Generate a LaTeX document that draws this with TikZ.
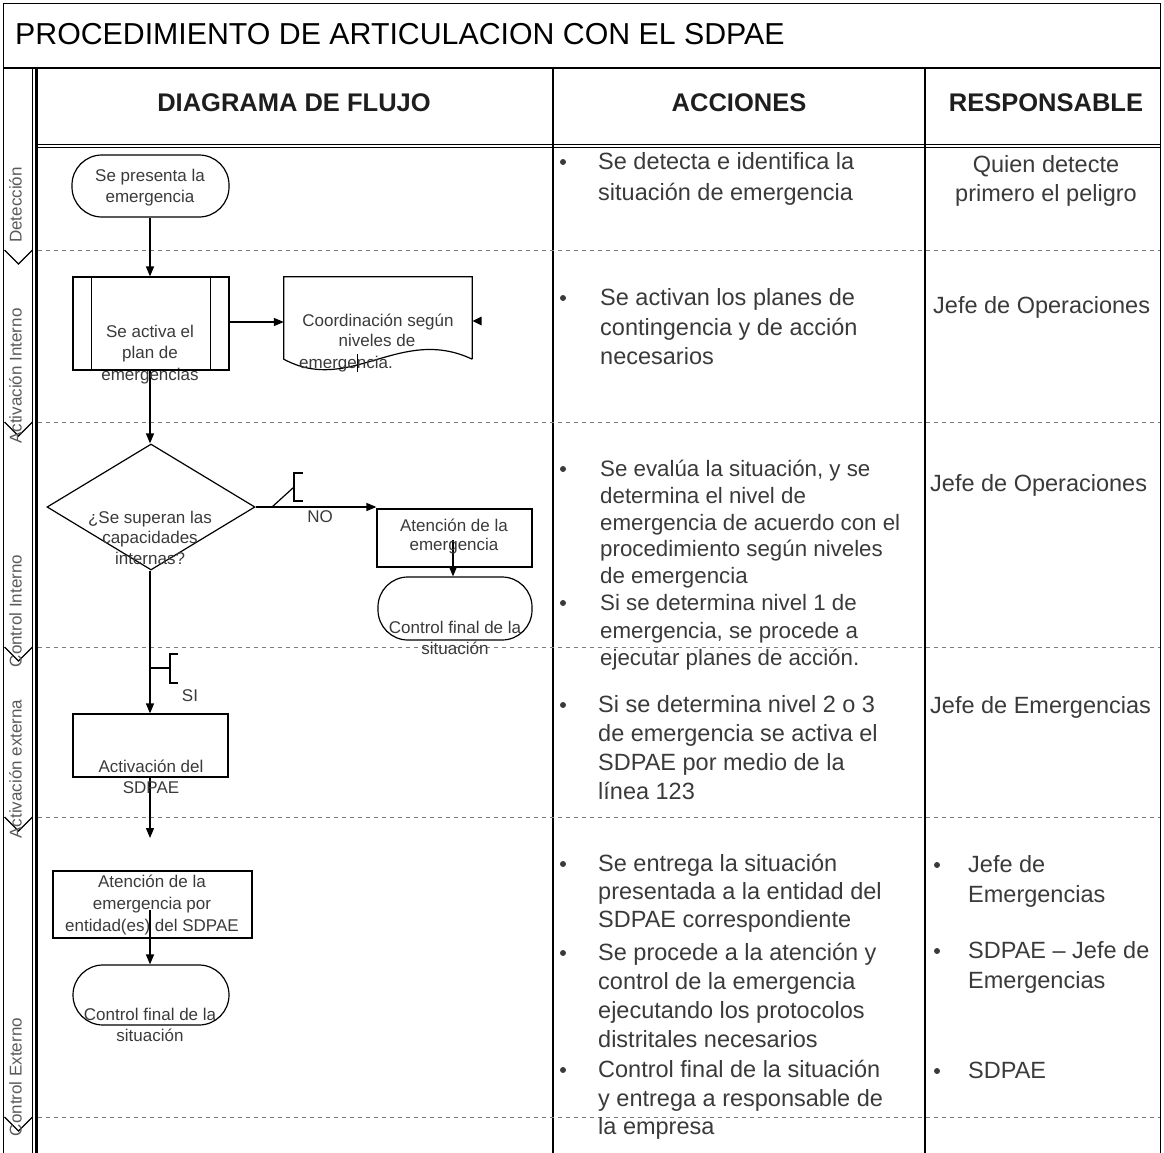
\documentclass[tikz,border=0pt]{standalone}
\usepackage{fontspec}
\setmainfont{Liberation Sans}
\usetikzlibrary{arrows.meta,shapes.geometric}
\definecolor{txt}{HTML}{3A3A3A}
\definecolor{hdr}{HTML}{1E1E1E}
\definecolor{dashc}{HTML}{7A7A7A}
\definecolor{lanec}{HTML}{5A5A5A}
\newcommand\TxtLines[6]{%
  \foreach \t [count=\i] in {#6} {
    \node[#2] (#1\i) at ({#3},{#4+#5*(\i-1)}) {\t};
  }}
\begin{document}
\begin{tikzpicture}[x=1pt,y=-1pt,
  fl/.style={draw, line width=1.2pt, inner sep=0pt},
  term/.style={fl, rectangle, rounded corners=30pt},
  conn/.style={line width=1.3pt, -{Triangle[length=10pt,width=8pt]}},
  annot/.style={line width=1.2pt},
  ftxt/.style={font=\fontsize{17}{20}\selectfont, text=txt, inner sep=0pt, anchor=mid, yshift=-3.5pt},
  atxt/.style={font=\fontsize{23.5}{27}\selectfont, text=txt, inner sep=0pt, anchor=mid west, yshift=-5pt},
  atxs/.style={atxt, font=\fontsize{22.3}{26}\selectfont},
  ctxt/.style={font=\fontsize{23.5}{27}\selectfont, text=txt, inner sep=0pt, anchor=mid, yshift=-5pt},
  hdrtxt/.style={font=\fontsize{25.5}{30}\bfseries, text=hdr, inner sep=0pt, anchor=base},
  lane/.style={font=\fontsize{17}{20}\selectfont, text=lanec, inner sep=0pt, rotate=90, anchor=mid},
  dsh/.style={draw=dashc, line width=1pt, dash pattern=on 4pt off 4pt},
  bul/.style={fill=txt, draw=none}
]
\useasboundingbox (0,0) rectangle (1164,1153);
% ---------- table frame ----------
\draw[line width=1.4pt] (3.5,1153) -- (3.5,3.5) -- (1160.5,3.5) -- (1160.5,1153);
\draw[line width=2.4pt] (3,68) -- (1161,68);
\draw[line width=1.1pt] (36,144.5) -- (1161,144.5);
\draw[line width=1.1pt] (36,147.5) -- (1161,147.5);
\draw[line width=3pt] (36,68) -- (36,1153);
\draw[line width=0.8pt] (32.5,68) -- (32.5,1153);
\draw[line width=1.3pt] (553,68) -- (553,1153);
\draw[line width=1.3pt] (925,68) -- (925,1153);
\foreach \yy in {250,422,647,817,1117} {
  \draw[dsh] (38,\yy) -- (1160,\yy);
  \draw[line width=1.3pt] (4.5,\yy) -- (18.5,{\yy+14}) -- (32.5,\yy);
}
% ---------- title and headers ----------
\node[anchor=base west, font=\fontsize{30.3}{34}\selectfont, text=black, inner sep=0pt] (title) at (15,45) {PROCEDIMIENTO DE ARTICULACION CON EL SDPAE};
\node[hdrtxt] (h1) at (294,112) {DIAGRAMA DE FLUJO};
\node[hdrtxt] (h2) at (739,112) {ACCIONES};
\node[hdrtxt] (h3) at (1046,112) {RESPONSABLE};
% ---------- lane labels ----------
\node[lane] (lane1) at (19,205) {Detección};
\node[lane] (lane2) at (19,376) {Activación Interno};
\node[lane] (lane3) at (19,611) {Control Interno};
\node[lane] (lane4) at (19,769) {Activación externa};
\node[lane] (lane5) at (19,1077) {Control Externo};
% ---------- flowchart shapes ----------
\node[term, minimum width=157pt, minimum height=62pt] (start) at (150.5,186) {};
\node[fl, rectangle, minimum width=156pt, minimum height=93pt] (plan) at (151,323.5) {};
\draw[line width=1.2pt] ([xshift=19pt]plan.north west) -- ([xshift=19pt]plan.south west);
\draw[line width=1.2pt] ([xshift=-19pt]plan.north east) -- ([xshift=-19pt]plan.south east);
\node[inner sep=0pt, minimum width=188pt, minimum height=82pt] (doc) at (378,318) {};
\draw[line width=1.2pt] (doc.south east) -- (doc.north east) -- (doc.north west) -- (doc.south west)
  .. controls (350,395) and (400,325) .. (doc.south east);
\fill (472.5,321) -- (481.5,316.5) -- (481.5,325.5) -- cycle;
\draw[line width=1pt] (357,354) -- (357,372);
\node[fl, diamond, minimum width=208pt, minimum height=126pt, aspect=1.65] (dia) at (151,507) {};
\node[fl, rectangle, minimum width=155pt, minimum height=58pt] (aten1) at (454.5,538) {};
\node[term, minimum width=154pt, minimum height=63pt] (ctrl1) at (455,608.5) {};
\node[fl, rectangle, minimum width=155pt, minimum height=63pt] (act) at (150.5,745.5) {};
\coordinate (actend) at (150,838);
\node[fl, rectangle, minimum width=199pt, minimum height=67pt] (aten2) at (152.5,904.5) {};
\node[term, minimum width=156pt, minimum height=60pt] (ctrl2) at (151,995) {};
% ---------- connectors ----------
\draw[conn] (start.south -| 150,0) -- (plan.north -| 150,0);
\draw[conn] (plan.east |- 0,322) -- (doc.west |- 0,322);
\draw[conn] (plan.south -| 150,0) -- (dia.north -| 150,0);
\draw[conn] (dia.east) -- (aten1.west |- dia.east);
\draw[conn] (453,540) -- (ctrl1.north -| 453,0);
\draw[conn] (dia.south -| 150,0) -- (act.north -| 150,0);
\draw[conn] (act.south -| 150,0) -- (actend);
\draw[conn] (150,910) -- (ctrl2.north -| 150,0);
% ---------- annotations ----------
\draw[annot] (272,507) -- (294,487);
\draw[annot] (303,473) -- (294,473) -- (294,501) -- (303,501);
\node[ftxt] (nolab) at (320,516) {NO};
\draw[annot] (151,668) -- (170,668);
\draw[annot] (178,654) -- (170,654) -- (170,683) -- (178,683);
\node[ftxt] (silab) at (190,695) {SI};
% ---------- flowchart texts ----------
\TxtLines{ts}{ftxt}{150}{175}{21}{Se presenta la, emergencia}
\TxtLines{tp}{ftxt}{150}{331}{21.5}{Se activa el, plan de, emergencias}
\node[ftxt] (td1) at (378,320) {Coordinación según};
\node[ftxt] (td2) at (377,340) {niveles de};
\node[ftxt, anchor=mid west] (td3) at (299,362) {emergencia.};
\TxtLines{tq}{ftxt}{150}{517}{20.5}{¿Se superan las, capacidades, internas?}
\TxtLines{ta}{ftxt}{454}{525}{19.5}{Atención de la, emergencia}
\TxtLines{tc}{ftxt}{455}{627}{21}{Control final de la, situación}
\TxtLines{tv}{ftxt}{151}{766}{21}{Activación del, SDPAE}
\TxtLines{te}{ftxt}{152}{881}{22}{Atención de la, emergencia por, entidad(es) del SDPAE}
\TxtLines{tf}{ftxt}{150}{1014}{21}{Control final de la, situación}
% ---------- acciones ----------
\foreach \by [count=\k] in {162,298,469,603,705,864,953,1070} {
  \fill[bul] (563,\by) circle (3pt);
}
\TxtLines{aa}{atxt}{598}{162}{31}{Se detecta e identifica la, situación de emergencia}
\TxtLines{ab}{atxt}{600}{298}{29.5}{Se activan los planes de, contingencia y de acción, necesarios}
\TxtLines{ac}{atxs}{600}{469}{26.75}{{Se evalúa la situación, y se}, determina el nivel de, emergencia de acuerdo con el, procedimiento según niveles, de emergencia}
\TxtLines{ad}{atxs}{600}{603}{27.5}{Si se determina nivel 1 de, {emergencia, se procede a}, ejecutar planes de acción.}
\TxtLines{ae}{atxt}{598}{705}{29}{Si se determina nivel 2 o 3, de emergencia se activa el, SDPAE por medio de la, línea 123}
\TxtLines{af}{atxt}{598}{864}{28}{Se entrega la situación, presentada a la entidad del, SDPAE correspondiente}
\TxtLines{ag}{atxt}{598}{953}{29}{Se procede a la atención y, control de la emergencia, ejecutando los protocolos, distritales necesarios}
\TxtLines{ah}{atxt}{598}{1070}{28.5}{Control final de la situación, y entrega a responsable de, la empresa}
% ---------- responsable ----------
\TxtLines{ra}{ctxt}{1046}{165}{29}{Quien detecte, primero el peligro}
\node[atxt] (rb) at (933,306) {Jefe de Operaciones};
\node[atxt] (rc) at (930,484) {Jefe de Operaciones};
\node[atxt] (rd) at (930,706) {Jefe de Emergencias};
\foreach \by [count=\k] in {865,951,1071} {
  \fill[bul] (937,\by) circle (3pt);
}
\TxtLines{re}{atxt}{968}{865}{30}{Jefe de, Emergencias}
\TxtLines{rf}{atxt}{968}{951}{30}{SDPAE – Jefe de, Emergencias}
\node[atxt] (rg) at (968,1071) {SDPAE};
\end{tikzpicture}
\end{document}
